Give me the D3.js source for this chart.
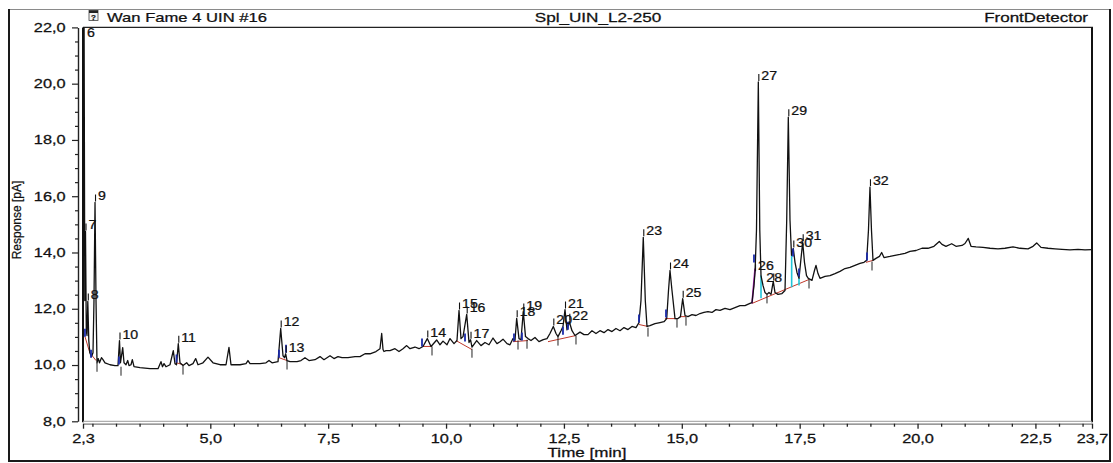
<!DOCTYPE html>
<html><head><meta charset="utf-8">
<script src="https://cdn.jsdelivr.net/npm/d3@7"></script>
<style>
body{margin:0;background:#fff;}
svg text{font-family:"Liberation Sans",Arial,Helvetica,sans-serif;fill:#111;stroke:#111;stroke-width:0.25px;}
</style>
</head><body>
<svg id="chart" width="1113" height="463"></svg>
<script>
// ---------------- data ----------------
const timeMin = [
2.300,2.321,2.338,2.353,2.370,2.385,2.402,2.423,2.444,2.480,
2.512,2.533,2.555,2.576,2.597,2.624,2.650,2.692,2.724,2.767,
2.873,2.979,3.042,3.074,3.095,3.117,3.142,3.170,3.212,3.248,
3.276,3.318,3.346,3.382,3.509,3.721,3.891,3.954,3.986,4.018,
4.060,4.145,4.215,4.251,4.283,4.321,4.357,4.421,4.499,4.548,
4.633,4.690,4.739,4.845,4.951,5.057,5.206,5.333,5.396,5.439,
5.630,5.757,5.799,5.842,6.054,6.181,6.245,6.309,6.436,6.493,
6.542,6.574,6.599,6.627,6.690,6.839,6.923,7.008,7.093,7.220,
7.327,7.411,7.539,7.623,7.708,7.793,7.920,8.069,8.175,8.281,
8.387,8.514,8.599,8.635,8.663,8.684,8.726,8.811,8.917,9.002,
9.087,9.165,9.235,9.341,9.426,9.511,9.602,9.681,9.801,9.872,
9.935,10.020,10.084,10.169,10.232,10.275,10.317,10.360,10.438,10.487,
10.519,10.550,10.650,10.741,10.826,10.911,10.996,11.080,11.144,11.208,
11.293,11.356,11.420,11.462,11.498,11.547,11.589,11.638,11.685,11.738,
11.802,11.886,11.971,12.062,12.141,12.204,12.275,12.332,12.374,12.438,
12.480,12.523,12.565,12.614,12.671,12.735,12.841,12.926,13.010,13.095,
13.180,13.265,13.350,13.435,13.519,13.604,13.689,13.774,13.859,13.943,
14.028,14.092,14.134,14.183,14.226,14.262,14.325,14.431,14.537,14.622,
14.680,14.718,14.750,14.792,14.856,14.919,14.972,15.019,15.068,15.131,
15.216,15.301,15.386,15.470,15.555,15.640,15.725,15.810,15.916,16.022,
16.128,16.234,16.340,16.446,16.489,16.531,16.553,16.584,16.623,16.654,
16.680,16.722,16.764,16.807,16.849,16.892,16.940,16.976,17.040,17.125,
17.189,17.225,17.259,17.295,17.327,17.365,17.401,17.443,17.486,17.524,
17.564,17.602,17.645,17.683,17.761,17.814,17.846,17.889,17.931,18.037,
18.143,18.249,18.355,18.461,18.567,18.673,18.779,18.864,18.921,18.959,
18.991,19.023,19.055,19.118,19.192,19.239,19.288,19.415,19.521,19.627,
19.733,19.839,19.967,20.094,20.221,20.348,20.461,20.518,20.603,20.724,
20.815,20.943,21.006,21.076,21.134,21.240,21.388,21.537,21.706,21.855,
22.024,22.173,22.343,22.449,22.527,22.618,22.767,22.916,23.064,23.233,
23.403,23.551,23.700];

const responsePA = [
23.0,23.5,12.29,14.75,11.22,11.05,12.26,10.87,10.44,10.30,
10.44,12.29,15.78,12.29,10.08,10.23,10.08,10.26,10.19,10.08,
10.01,9.98,9.98,10.87,10.08,10.33,10.62,10.08,10.01,10.16,
9.98,10.01,10.19,9.94,9.91,9.87,9.87,10.12,9.94,10.05,
9.94,10.01,10.51,10.05,10.01,10.76,10.08,9.98,10.08,9.98,
10.05,10.23,10.01,10.08,10.28,10.08,10.01,10.01,10.63,10.01,
10.01,10.05,10.16,10.05,10.05,10.08,10.16,10.08,10.12,11.30,
10.33,10.26,10.40,10.16,10.12,10.12,10.16,10.26,10.16,10.19,
10.30,10.19,10.33,10.23,10.30,10.26,10.26,10.30,10.30,10.40,
10.40,10.48,10.58,11.12,10.55,10.48,10.51,10.51,10.58,10.48,
10.58,10.69,10.58,10.64,10.58,10.66,10.94,10.66,10.89,10.72,
10.85,10.72,10.94,10.76,10.87,11.94,10.94,11.01,11.80,10.80,
10.90,10.64,10.87,10.69,10.80,10.72,10.96,10.76,10.83,10.92,
10.76,10.72,10.94,10.87,11.66,10.94,10.90,11.90,11.01,10.94,
10.87,10.98,10.83,10.90,10.94,11.12,11.37,11.12,11.01,11.22,
11.37,11.97,11.25,11.54,11.22,11.05,11.17,11.08,11.08,11.22,
11.12,11.22,11.15,11.26,11.19,11.30,11.22,11.33,11.26,11.37,
11.33,11.51,12.29,14.54,12.29,11.37,11.40,11.47,11.51,11.54,
11.65,12.65,13.36,12.65,11.65,11.65,11.72,12.36,11.76,11.72,
11.79,11.76,11.83,11.87,11.90,11.87,11.97,11.94,12.01,11.97,
12.04,12.11,12.11,12.19,12.22,12.83,13.30,14.79,20.06,14.79,
13.18,12.83,12.58,12.51,12.58,12.51,12.97,12.58,12.51,12.54,
12.65,15.14,18.81,15.14,13.90,14.14,13.65,13.29,13.08,13.72,
14.36,13.65,13.18,13.08,13.01,13.36,13.54,13.25,13.08,13.15,
13.18,13.25,13.33,13.43,13.47,13.54,13.61,13.65,13.72,14.79,
16.32,14.79,13.72,13.79,13.86,14.00,13.82,13.86,13.90,13.93,
13.97,14.04,14.07,14.15,14.15,14.22,14.39,14.29,14.22,14.31,
14.22,14.25,14.32,14.50,14.22,14.20,14.18,14.15,14.13,14.15,
14.20,14.15,14.13,14.22,14.34,14.18,14.15,14.13,14.11,14.09,
14.11,14.09,14.10];

const peakIds     = ["6","7","8","9","10","11","12","13","14","15","16","17","18","19","20","21","22","23","24","25","26","27","28","29","30","31","32"];
const peakTimes   = [2.321,2.353,2.402,2.555,3.074,4.321,6.493,6.599,9.602,10.275,10.438,10.519,11.498,11.638,12.275,12.523,12.614,14.183,14.750,15.019,16.553,16.623,16.940,17.259,17.365,17.564,18.991];
const peakHeights = [23.5,14.75,12.26,15.78,10.87,10.76,11.30,10.40,10.94,11.94,11.80,10.90,11.66,11.90,11.37,11.97,11.54,14.54,13.36,12.36,13.30,20.06,12.97,18.81,14.14,14.36,16.32];

// integration baselines [t1, v1, t2, v2]
const baselineSegments = [
 [2.342,11.01,2.444,10.44],[2.444,10.44,2.576,10.16],
 [4.283,10.08,4.421,10.01],[6.457,10.26,6.627,10.16],
 [9.490,10.66,9.702,10.66],[10.211,10.87,10.550,10.55],
 [11.420,10.83,11.738,10.87],[12.162,10.83,12.756,11.05],
 [14.092,11.44,14.283,11.37],[14.643,11.65,14.898,11.65],
 [14.962,11.72,15.089,11.72],[16.489,12.19,17.698,13.04],
 [18.907,13.65,19.055,13.72]];
// peak start markers [t, v]
const startMarkers = [[2.342,11.15],[2.470,10.40],[3.063,10.16],[4.283,10.23],[6.457,10.40],[6.606,10.58],
 [9.490,10.80],[10.402,10.98],[11.441,10.98],[11.610,11.01],[12.480,11.22],[12.586,11.40],
 [14.092,11.65],[14.665,11.83],[16.531,13.79],[17.359,14.00],[17.486,13.29],[18.928,13.86]];
// peak end ticks [t, v]
const endTicks = [[2.597,10.08],[3.106,9.94],[4.421,9.98],[6.627,10.16],[9.702,10.66],[10.550,10.58],
 [11.526,10.87],[11.717,10.90],[12.374,11.01],[12.756,11.05],[14.283,11.33],[14.898,11.65],
 [15.089,11.72],[16.807,12.51],[17.698,13.04],[19.034,13.68]];
// perpendicular drops [t, vTop, vBottom]
const dropLines = [[16.680,13.18,12.37],[17.330,13.90,12.76],[17.486,13.08,12.83]];
const shoulderLine = [16.489,12.19,16.553,13.43];

const xTickValues = [2.3,5.0,7.5,10.0,12.5,15.0,17.5,20.0,22.5,23.7];
const xTickLabels = ["2,3","5,0","7,5","10,0","12,5","15,0","17,5","20,0","22,5","23,7"];
const xMinorValues = [2.5,3.0,3.5,4.0,4.5,5.5,6.0,6.5,7.0,8.0,8.5,9.0,9.5,10.5,11.0,11.5,12.0,13.0,13.5,14.0,14.5,15.5,16.0,16.5,17.0,18.0,18.5,19.0,19.5,20.5,21.0,21.5,22.0,23.0,23.5];
const yTickValues = [8,10,12,14,16,18,20,22];
const yTickLabels = ["8,0","10,0","12,0","14,0","16,0","18,0","20,0","22,0"];
const yMinorValues = [8.5,9,9.5,10.5,11,11.5,12.5,13,13.5,14.5,15,15.5,16.5,17,17.5,18.5,19,19.5,20.5,21,21.5];

const headerLeft = "Wan Fame 4 UIN #16";
const headerCenter = "Spl_UIN_L2-250";
const headerRight = "FrontDetector";
const xTitle = "Time [min]";
const yTitle = "Response [pA]";

// ---------------- layout ----------------
const svg = d3.select("#chart");
const L = 83, R = 1092, T = 27.4, B = 421.3;
const SX = 1.42; // horizontal text stretch of the original
const x = d3.scaleLinear().domain([2.3, 23.7]).range([L, R]);
const y = d3.scaleLinear().domain([8, 22]).range([B, T]);

// outer frame
svg.append("line").attr("x1",9).attr("x2",1110).attr("y1",9.5).attr("y2",9.5).attr("stroke","#8a8a8a").attr("stroke-width",1);
svg.append("line").attr("x1",9).attr("x2",9).attr("y1",9).attr("y2",461).attr("stroke","#1a1a1a").attr("stroke-width",2);
svg.append("line").attr("x1",1110).attr("x2",1110).attr("y1",9).attr("y2",461).attr("stroke","#1a1a1a").attr("stroke-width",2);
svg.append("line").attr("x1",8).attr("x2",1111).attr("y1",461).attr("y2",461).attr("stroke","#1a1a1a").attr("stroke-width",2);

function stretchedText(g, str, tx, ty, size, anchor, sx){
  return g.append("text").attr("transform",`translate(${tx},${ty}) scale(${sx},1)`)
    .attr("text-anchor",anchor).attr("font-size",size).text(str);
}

// header
const icon = svg.append("g");
icon.append("rect").attr("x",89).attr("y",10.5).attr("width",9).attr("height",10).attr("fill","#f4f4f4").attr("stroke","#444").attr("stroke-width",0.8);
icon.append("rect").attr("x",89).attr("y",10.5).attr("width",9).attr("height",2.5).attr("fill","#222");
icon.append("text").attr("x",93.5).attr("y",20).attr("text-anchor","middle").attr("font-size",8).attr("font-weight","bold").attr("fill","#234").text("?");
stretchedText(svg, headerLeft, 107, 22, 12.5, "start", 1.33);
stretchedText(svg, headerCenter, 598, 22, 12.5, "middle", 1.37);
stretchedText(svg, headerRight, 1088, 22, 12.5, "end", 1.36);

// plot box
svg.append("line").attr("x1",L).attr("x2",R+1).attr("y1",T).attr("y2",T).attr("stroke","#222").attr("stroke-width",1.3);
svg.append("line").attr("x1",L).attr("x2",L).attr("y1",T).attr("y2",B+1).attr("stroke","#111").attr("stroke-width",2);
svg.append("line").attr("x1",R).attr("x2",R).attr("y1",T).attr("y2",B+1).attr("stroke","#111").attr("stroke-width",2);
svg.append("line").attr("x1",L).attr("x2",R).attr("y1",B).attr("y2",B).attr("stroke","#9a9a9a").attr("stroke-width",1);

// y axis
const yAxisG = svg.append("g").attr("transform","translate(78,0)")
  .call(d3.axisLeft(y).tickValues(yTickValues).tickFormat((d,i)=>yTickLabels[i]).tickSize(6).tickSizeOuter(0).tickPadding(7));
yAxisG.select(".domain").attr("stroke","#222").attr("stroke-width",1.4);
yAxisG.selectAll(".tick line").attr("stroke","#222").attr("stroke-width",1.2);
yAxisG.selectAll(".tick text").attr("font-size",12).attr("font-family","Liberation Sans, Arial, sans-serif")
  .attr("fill","#111").attr("x",-13/SX).attr("transform",`scale(${SX-0.06},1)`);
const yMinorG = svg.append("g").attr("transform","translate(78,0)")
  .call(d3.axisLeft(y).tickValues(yMinorValues).tickFormat("").tickSize(3).tickSizeOuter(0));
yMinorG.select(".domain").remove();
yMinorG.selectAll(".tick line").attr("stroke","#222").attr("stroke-width",1.2);

// x axis
const xAxisG = svg.append("g").attr("transform",`translate(0,${B+2.4})`)
  .call(d3.axisBottom(x).tickValues(xTickValues).tickFormat((d,i)=>xTickLabels[i]).tickSize(5).tickSizeOuter(0).tickPadding(6));
xAxisG.select(".domain").attr("stroke","#777").attr("stroke-width",1.3);
xAxisG.selectAll(".tick line").attr("stroke","#222").attr("stroke-width",1.3);
xAxisG.selectAll(".tick text").attr("font-size",12).attr("font-family","Liberation Sans, Arial, sans-serif")
  .attr("fill","#111").attr("transform",`scale(${SX-0.06},1)`);
const xMinorG = svg.append("g").attr("transform",`translate(0,${B+2.4})`)
  .call(d3.axisBottom(x).tickValues(xMinorValues).tickFormat("").tickSize(3).tickSizeOuter(0));
xMinorG.select(".domain").remove();
xMinorG.selectAll(".tick line").attr("stroke","#222").attr("stroke-width",1.3);

// axis titles
stretchedText(svg, xTitle, 587, 456.5, 12, "middle", SX);
svg.append("text").attr("transform","translate(21,220) rotate(-90)").attr("text-anchor","middle")
  .attr("font-size",12).text(yTitle);

// clip
svg.append("clipPath").attr("id","plotclip").append("rect")
  .attr("x",L).attr("y",T).attr("width",R-L).attr("height",B-T);
const plot = svg.append("g").attr("clip-path","url(#plotclip)");

// integration decorations
plot.selectAll(".bl").data(baselineSegments).join("line")
  .attr("x1",d=>x(d[0])).attr("y1",d=>y(d[1])).attr("x2",d=>x(d[2])).attr("y2",d=>y(d[3]))
  .attr("stroke","#c0392b").attr("stroke-width",1);
plot.append("line").attr("x1",x(shoulderLine[0])).attr("y1",y(shoulderLine[1]))
  .attr("x2",x(shoulderLine[2])).attr("y2",y(shoulderLine[3])).attr("stroke","#b21cc0").attr("stroke-width",1.6);
plot.selectAll(".dl").data(dropLines).join("line")
  .attr("x1",d=>x(d[0])).attr("x2",d=>x(d[0])).attr("y1",d=>y(d[1])).attr("y2",d=>y(d[2]))
  .attr("stroke","#20c4d8").attr("stroke-width",1.6);

// trace
const points = timeMin.map((t,i)=>[t, responsePA[i]]);
plot.append("path").datum(points)
  .attr("d", d3.line().x(d=>x(d[0])).y(d=>y(d[1])))
  .attr("fill","none").attr("stroke","#111").attr("stroke-width",1.3).attr("stroke-linejoin","round");

plot.selectAll(".sm").data(startMarkers).join("line")
  .attr("x1",d=>x(d[0])).attr("x2",d=>x(d[0])).attr("y1",d=>y(d[1])-4).attr("y2",d=>y(d[1])+4)
  .attr("stroke","#1a2aa8").attr("stroke-width",1.8);
plot.selectAll(".et").data(endTicks).join("line")
  .attr("x1",d=>x(d[0])).attr("x2",d=>x(d[0])).attr("y1",d=>y(d[1])).attr("y2",d=>y(d[1])+9)
  .attr("stroke","#222").attr("stroke-width",1);

// peak labels
const labelShift = {"28":[-10,3]};
const lab = plot.append("g");
peakIds.forEach((id,i)=>{
  const px = x(peakTimes[i]);
  const py = Math.max(y(peakHeights[i]), T+12);
  const sh = labelShift[id] || [0,0];
  if (id !== "6") {
    lab.append("line").attr("x1",px+0.5).attr("x2",px+0.5).attr("y1",py-8).attr("y2",py-1)
      .attr("stroke","#111").attr("stroke-width",1.1);
  }
  stretchedText(lab, id, px+3+sh[0], py-2+sh[1], 12, "start", 1.18);
});
</script>
</body></html>
